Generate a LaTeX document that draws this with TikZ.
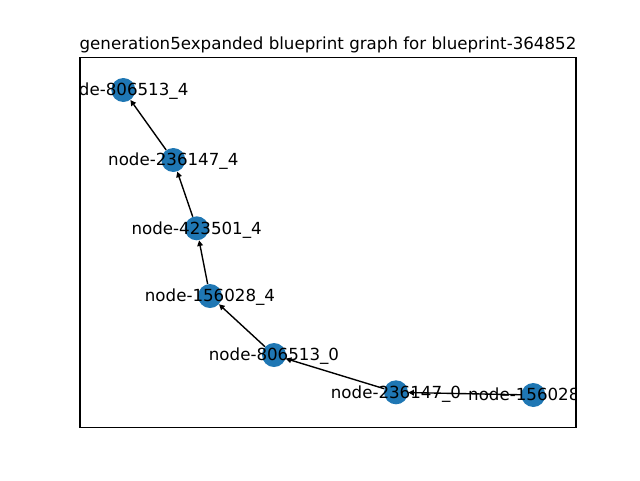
\documentclass[tikz,border=0pt]{standalone}
\usepackage{fontspec}
\setmainfont{DejaVu Sans}
\usetikzlibrary{arrows.meta}
\definecolor{nxblue}{HTML}{1F77B4}
\begin{document}
\begin{tikzpicture}[x=0.75pt,y=-0.75pt,
  gnode/.style={circle,fill=nxblue,draw=none,minimum size=18pt,inner sep=0pt},
  glabel/.style={font=\fontsize{12.5}{15}\selectfont,inner sep=0pt,text=black,anchor=base},
  gedge/.style={-{Triangle[length=4.2pt,width=4.2pt]},line width=1.04pt,black},
  frame/.style={line width=0.83pt,black}]
\useasboundingbox (0,0) rectangle (640,480);
% title
\node[glabel] (title) at (328,49) {generation5expanded blueprint graph for blueprint-364852};
% nodes
\node[gnode] (a) at (123.3,90) {};
\node[gnode] (b) at (173.3,160) {};
\node[gnode] (c) at (196.7,228.3) {};
\node[gnode] (d) at (210,296) {};
\node[gnode] (e) at (274,355) {};
\node[gnode] (f) at (396,392.3) {};
\node[gnode] (g) at (533.3,395) {};
% edges
\draw[gedge] (g) -- (f);
\draw[gedge] (f) -- (e);
\draw[gedge] (e) -- (d);
\draw[gedge] (d) -- (c);
\draw[gedge] (c) -- (b);
\draw[gedge] (b) -- (a);
% labels, clipped to axes
\begin{scope}
\clip (80,57.6) rectangle (576,427.2);
\path (a.center) ++(0,5.7) node[glabel] (la) {node-806513\_4};
\path (b.center) ++(0,5.7) node[glabel] (lb) {node-236147\_4};
\path (c.center) ++(0,5.7) node[glabel] (lc) {node-423501\_4};
\path (d.center) ++(0,5.7) node[glabel] (ld) {node-156028\_4};
\path (e.center) ++(0,5.7) node[glabel] (le) {node-806513\_0};
\path (f.center) ++(0,5.7) node[glabel] (lf) {node-236147\_0};
\path (g.center) ++(0,5.7) node[glabel] (lg) {node-156028\_0};
\end{scope}
% axes frame
\draw[frame] (80,57.6) rectangle (576,427.2);
\end{tikzpicture}
\end{document}
